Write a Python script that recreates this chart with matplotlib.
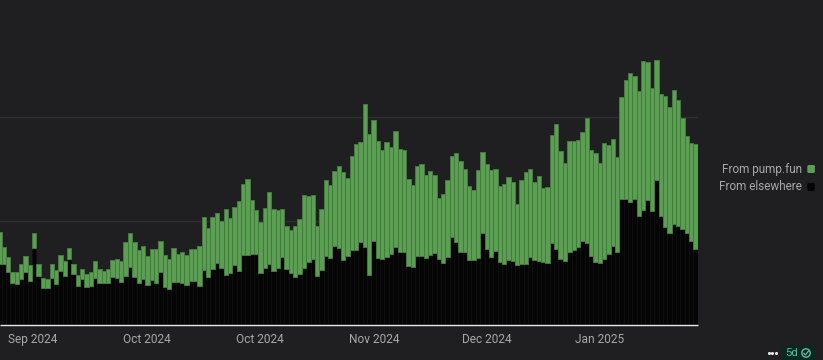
import matplotlib
matplotlib.use('Agg')
import matplotlib.pyplot as plt
from matplotlib.patches import FancyBboxPatch, Circle

plt.rcParams['font.family'] = ['Roboto', 'DejaVu Sans']

# heights (no y labels in the chart, so units are arbitrary)
total = [93.3, 77.7, 67.7, 53, 53.3, 61.3, 68.7, 59.7, 92, 61, 47, 46.3, 61, 54.7, 69.7, 63.7,
         77, 61, 50.3, 56.3, 51, 53, 64, 55.7, 54.3, 56, 65, 65.7, 64, 82.7, 91.7, 82.7,
         74.7, 79.3, 68.7, 76.3, 76, 83.7, 70.3, 66.3, 76.7, 71, 72.7, 69.7, 76.3, 76, 79.3, 107.7,
         96.7, 107.7, 111.7, 104.3, 115.7, 106.7, 117.7, 124.3, 141, 145.7, 125.3, 114.7, 103, 117.3, 132.7, 116.3,
         115, 116.3, 99, 95, 99, 105.7, 130, 129, 129.7, 99, 116.3, 144.7, 140, 153.7, 158.7, 152.7,
         147, 169.3, 181, 183.3, 221.3, 191.3, 205.3, 184.3, 175, 182.7, 178.3, 193.7, 175.7, 174.7, 145.7, 139.7,
         159, 160.7, 150, 153.7, 150, 127, 130.7, 144.7, 169, 171.7, 164.3, 155.7, 139.3, 135, 154.7, 172.7,
         160.7, 155, 156.3, 139.3, 141.3, 148.3, 143, 121, 145, 152.7, 155.7, 142.7, 149.3, 137, 138, 190,
         201.3, 173.7, 161.7, 184.3, 184, 185, 193, 206.7, 175.3, 171.7, 162.3, 182.3, 180.3, 186.3, 168.3, 228.3,
         244.7, 251.7, 249.3, 234, 263.7, 263, 236.7, 265, 231, 229, 218, 235, 225, 207, 188.7, 181.7, 180.7]
elsewhere = [61, 61.3, 53.3, 42, 41, 46.3, 53, 44.3, 77, 48.7, 36.7, 37.3, 47, 41.3, 54.3, 49,
             66, 51, 39.3, 46, 37.7, 39.3, 47.3, 42.3, 42.3, 42.3, 48, 47, 43, 49, 57.7, 48,
             41.7, 46.3, 40, 45, 41.7, 53, 37.7, 36.3, 43, 43, 42.3, 40, 44.3, 43.7, 39.3, 55,
             48, 56.3, 62.3, 56.7, 50, 52.3, 60, 53.7, 70, 70, 71, 71, 52.3, 57.3, 61.3, 54.3,
             57.3, 68.3, 56.3, 51.7, 48, 50.7, 57.3, 62.7, 65.7, 49, 55, 69.3, 67.3, 79, 76.7, 65,
             69, 75, 75, 83, 78, 50, 84, 67.3, 65.7, 67.7, 71, 78, 72.7, 73.3, 59.3, 57.7,
             68.7, 68.7, 67.3, 70, 72.3, 65.7, 62, 68.3, 88.3, 82.7, 73.3, 73.3, 65, 65, 67.3, 92,
             75.7, 67.7, 74, 63, 61.3, 65, 63.7, 60, 61.3, 61.3, 67.7, 64.7, 64, 62.7, 62.3, 81.7,
             76.3, 65.7, 64, 73, 74.7, 78.3, 84, 82, 69.3, 63.3, 62, 65.7, 71.3, 79, 73.3, 126,
             126.3, 123.3, 126.3, 109.3, 114.7, 125.3, 114, 145.3, 108.7, 98.3, 91.7, 101, 99, 96.3, 92, 84, 76.3]
pumpfun = [t - e for t, e in zip(total, elsewhere)]

tick_pos = [7.7, 33.9, 59.9, 86.1, 112.1, 138.0]
tick_labels = ['Sep 2024', 'Oct 2024', 'Oct 2024', 'Nov 2024', 'Dec 2024', 'Jan 2025']
legend_labels = ['From pump.fun', 'From elsewhere']

BG = '#1f1f21'
GREEN = '#5b9f52'
EDGE = '#467a40'
TEXT = '#a8a8a8'

W, H = 823, 360
fig = plt.figure(figsize=(W / 100, H / 100), dpi=100, facecolor=BG)
ax = fig.add_axes([0, 35 / H, 697.7 / W, 325 / H], facecolor=BG)

days = list(range(len(total)))
ax.bar(days, elsewhere, width=1.0, color='#050505', edgecolor='#111112', linewidth=0.5, zorder=2)
ax.bar(days, pumpfun, bottom=elsewhere, width=1.0, color=GREEN,
       edgecolor=EDGE, linewidth=0.7, zorder=2)

ax.set_xlim(0.115, 160.5)
ax.set_ylim(0, 325)
ax.set_yticks([104, 208])
ax.set_yticklabels([])
ax.grid(axis='y', color='#2f2f31', linewidth=1, zorder=0)
ax.set_xticks(tick_pos)
ax.set_xticklabels(tick_labels, color=TEXT, fontsize=8.6)
ax.tick_params(axis='both', length=0)
ax.tick_params(axis='x', pad=6)
for s in ['top', 'right', 'left']:
    ax.spines[s].set_visible(False)
ax.spines['bottom'].set_color('#e8e8e8')
ax.spines['bottom'].set_linewidth(1)
ax.spines['bottom'].set_capstyle('butt')
ax.spines['bottom'].set_zorder(3)

# overlay in pixel coordinates for legend and the badge
ov = fig.add_axes([0, 0, 1, 1], facecolor='none')
ov.set_xlim(0, W)
ov.set_ylim(H, 0)
ov.axis('off')

for label, col, y in zip(legend_labels, [GREEN, '#050505'], [169, 187]):
    ov.text(802, y, label, color=TEXT, fontsize=8.5, ha='right', va='center')
    ov.add_patch(FancyBboxPatch((807.3, y - 4), 7.6, 8, boxstyle='round,pad=0,rounding_size=1.5',
                                mutation_aspect=1, fc=col, ec='none'))

ov.scatter([769, 772.5, 776], [353, 353, 353], s=5, color='#e8e8e8', linewidths=0)
ov.add_patch(FancyBboxPatch((782, 346), 33, 20, boxstyle='round,pad=0,rounding_size=4',
                            fc='#07291f', ec='none', clip_on=True))
ov.text(791.5, 353, '5d', color='#4fc3a1', fontsize=8.2, ha='center', va='center')
ov.add_patch(Circle((806, 353), 4.2, fc='none', ec='#6fb89f', lw=1))
ov.plot([803.8, 805.4, 808.4], [353.2, 355, 351.2], color='#6fb89f', lw=0.9)

fig.savefig('out.png', dpi=100, facecolor=BG)
